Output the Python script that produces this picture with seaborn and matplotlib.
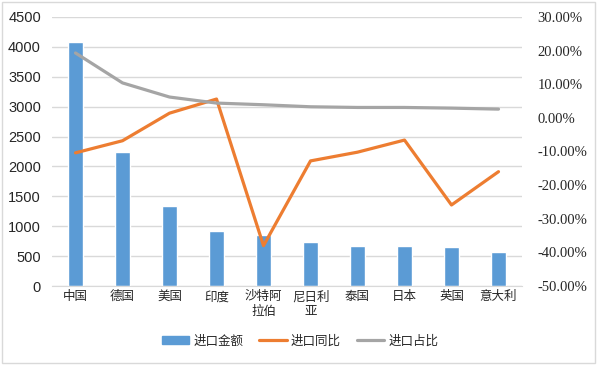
import numpy as np
import seaborn as sns
import matplotlib.pyplot as plt
from matplotlib.patches import Rectangle
from matplotlib.ticker import FuncFormatter

# Data
countries = ['中国', '德国', '美国', '印度', '沙特阿\n拉伯', '尼日利\n亚', '泰国', '日本', '英国', '意大利']
import_amount = [4080, 2240, 1340, 920, 855, 735, 670, 670, 652, 570]
import_yoy = [-10.4, -6.8, 1.4, 5.6, -38.0, -12.8, -10.2, -6.6, -25.9, -16.0]
import_share = [19.3, 10.4, 6.2, 4.4, 3.9, 3.3, 3.1, 3.1, 2.9, 2.6]

BLUE = '#5B9BD5'
ORANGE = '#ED7D31'
GRAY = '#A5A5A5'
GRID = '#D9D9D9'

sns.set_style('white')
plt.rcParams['font.family'] = ['Noto Sans CJK SC', 'DejaVu Sans']

fig = plt.figure(figsize=(6, 3.67), dpi=100)
ax = fig.add_axes([52 / 600, 1 - 286 / 367, 470 / 600, 269 / 367])

sns.barplot(x=countries, y=import_amount, color=BLUE, width=0.32, ax=ax,
            saturation=1, zorder=2)
ax.set_ylim(0, 4500)
ax.set_yticks(np.arange(0, 4501, 500))
ax.yaxis.grid(True, color=GRID, linewidth=1, zorder=0)
ax.set_axisbelow(True)
for side in ['top', 'right', 'left']:
    ax.spines[side].set_visible(False)
ax.spines['bottom'].set_color(GRID)
ax.tick_params(axis='both', length=0)
ax.tick_params(axis='y', pad=8, labelsize=10.5)
ax.tick_params(axis='x', pad=3)
for lbl in ax.get_yticklabels():
    lbl.set_family('Liberation Sans')
ax.set_xticklabels(countries, fontsize=9, linespacing=1.2, va='top')

ax2 = ax.twinx()
x = np.arange(len(countries))
sns.lineplot(x=x, y=import_yoy, color=ORANGE, linewidth=2.3, ax=ax2)
sns.lineplot(x=x, y=import_share, color=GRAY, linewidth=2.3, ax=ax2)
ax2.set_ylim(-50, 30)
ax2.set_yticks(np.arange(-50, 31, 10))
ax2.yaxis.set_major_formatter(FuncFormatter(lambda v, p: f'{v:.2f}%'))
for side in ['top', 'right', 'left', 'bottom']:
    ax2.spines[side].set_visible(False)
ax2.tick_params(axis='y', length=0, labelsize=10.5, pad=11)
for lbl in ax2.get_yticklabels():
    lbl.set_family('Liberation Serif')
ax.set_xlim(-0.5, len(countries) - 0.5)

handles = [
    Rectangle((0, 0), 1, 1, color=BLUE),
    plt.Line2D([], [], color=ORANGE, linewidth=2.3),
    plt.Line2D([], [], color=GRAY, linewidth=2.3),
]
fig.legend(handles, ['进口金额', '进口同比', '进口占比'], loc='center',
           bbox_to_anchor=(0.5, 1 - 341 / 367), ncol=3, frameon=False,
           fontsize=9, handlelength=2.2, handleheight=0.6,
           columnspacing=1.3, handletextpad=0.3)

fig.patches.append(Rectangle((2 / 600, 4 / 367), 593 / 600, 361 / 367,
                             transform=fig.transFigure, fill=False,
                             edgecolor=GRID, linewidth=1))

fig.savefig('out.png', dpi=100)
